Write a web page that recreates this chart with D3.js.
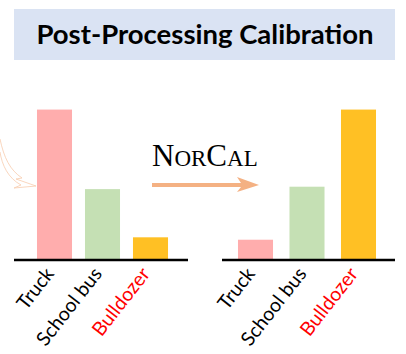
<!DOCTYPE html>
<html>
<head>
<meta charset="utf-8">
<script src="https://cdn.jsdelivr.net/npm/d3@7"></script>
<style>
body { margin: 0; background: #fff; }
text { font-family: Lato, "Open Sans", sans-serif; }
</style>
</head>
<body>
<div id="chart"></div>
<script>

// categories and scores before / after calibration
var categories = ["Truck", "School bus", "Bulldozer"];
var beforeValues = [0.62, 0.29, 0.09];
var afterValues = [0.08, 0.30, 0.62];
var barColors = ["#ffadad", "#c5e0b4", "#ffc024"];
var labelColors = ["#000", "#000", "#ff0000"];

var W = 406, H = 354;
var svg = d3.select('#chart').append('svg')
    .attr('width', W)
    .attr('height', H);

// title banner
svg.append('rect')
    .attr('x', 14).attr('y', 9)
    .attr('width', 381).attr('height', 51)
    .attr('fill', '#dae3f3');
svg.append('text')
    .attr('x', 205).attr('y', 44)
    .attr('text-anchor', 'middle')
    .style('font-size', '27.5px')
    .style('font-weight', 'bold')
    .text('Post-Processing Calibration');

var baseY = 259;
var y = d3.scaleLinear().domain([0, 1]).range([baseY, baseY - 241]);

function drawPanel(values, range, pin, axisX) {
  var x = d3.scaleBand()
      .domain(categories)
      .range(range)
      .paddingInner(pin)
      .paddingOuter(pin / 2);

  var g = svg.append('g');
  g.selectAll('rect')
      .data(values)
    .enter().append('rect')
      .attr('x', function(d, i) { return x(categories[i]); })
      .attr('y', function(d) { return y(d); })
      .attr('width', x.bandwidth())
      .attr('height', function(d) { return baseY - y(d); })
      .attr('fill', function(d, i) { return barColors[i]; });

  g.append('line')
      .attr('x1', axisX[0]).attr('x2', axisX[1])
      .attr('y1', baseY + 1).attr('y2', baseY + 1)
      .attr('stroke', '#000')
      .attr('stroke-width', 2.5);

  var ax = g.append('g')
      .attr('transform', 'translate(0,' + (baseY + 2) + ')')
      .call(d3.axisBottom(x).tickSize(0).tickPadding(0));
  ax.select('.domain').remove();
  ax.selectAll('text')
      .style('font-size', '19.5px')
      .style('font-family', 'Lato, sans-serif')
      .attr('fill', function(d, i) { return labelColors[i]; })
      .attr('text-anchor', 'end')
      .attr('dy', '0.35em')
      .attr('transform', 'translate(-5,9) rotate(-52)');
}

drawPanel(beforeValues, [30.5, 174.5], 0.27, [14, 188]);
drawPanel(afterValues, [229.75, 384.25], 0.32, [222, 395]);

// NorCal label in small caps
var nc = svg.append('text')
    .attr('x', 152).attr('y', 166)
    .style('font-family', '"Liberation Serif", "DejaVu Serif", serif')
    .attr('fill', '#000');
[["N", 31], ["OR", 23], ["C", 31], ["AL", 23]].forEach(function(p) {
  nc.append('tspan').style('font-size', p[1] + 'px').text(p[0]);
});

// straight arrow
svg.append('path')
    .attr('d', 'M152,183 L241,183 L237,177 L259,185 L237,192 L241,187 L152,187 Z')
    .attr('fill', '#f4b183');

// faint curved arrow coming from the left
svg.append('path')
    .attr('d', 'M0,139 C4,158 10,170 22,178 L16,179 L36,186 L14,188 L21,185 C8,178 2,165 0,152')
    .attr('fill', 'none')
    .attr('stroke', '#f8cbad')
    .attr('stroke-width', 0.8);

</script>
</body>
</html>
